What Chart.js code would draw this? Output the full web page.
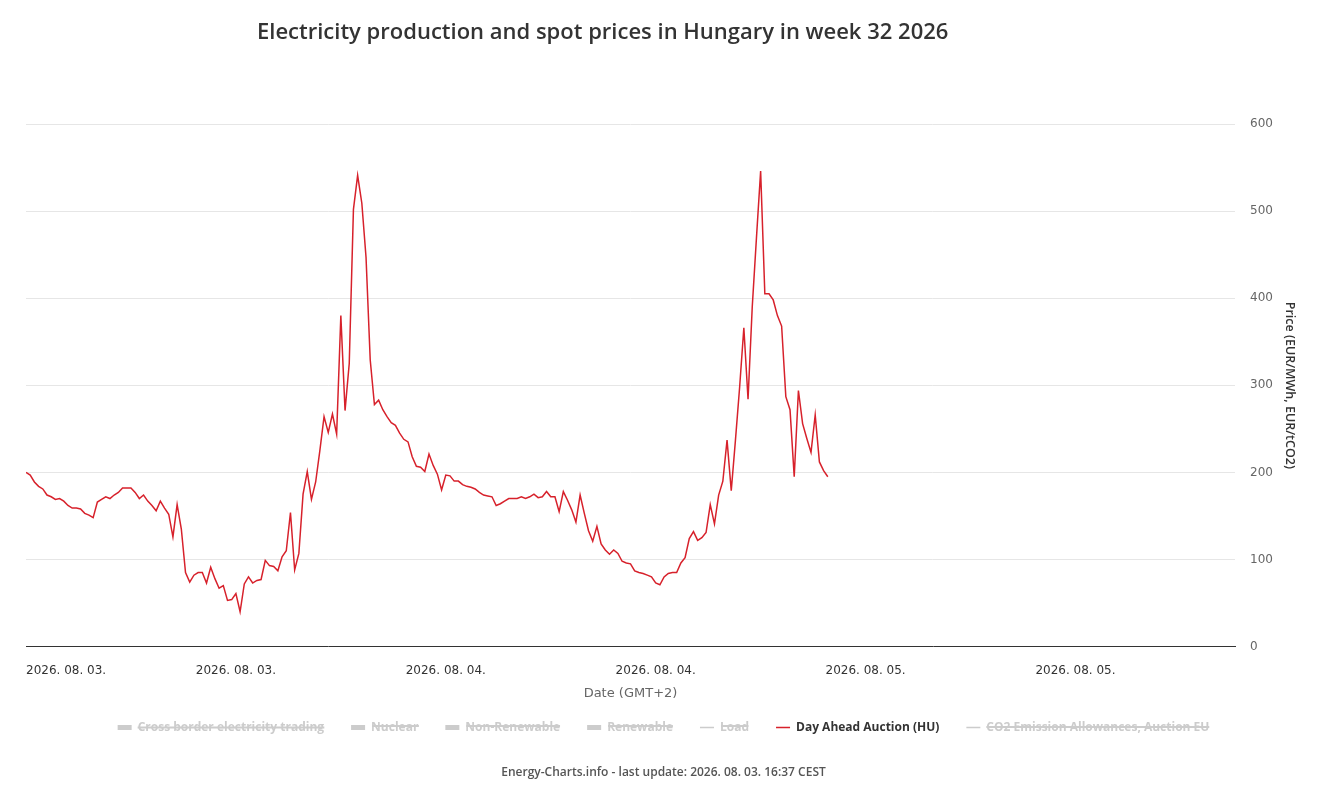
<!DOCTYPE html>
<html>
<head>
<meta charset="utf-8">
<title>Electricity production and spot prices in Hungary</title>
<script src="https://cdn.jsdelivr.net/npm/chart.js@4.4.1/dist/chart.umd.min.js"></script>
<style>
    html, body { margin: 0; padding: 0; background: #fff; }
    #wrap { position: relative; width: 1319px; height: 798px; }
    #chartTitle {
        position: absolute; left: 257px; top: 15px;
        font: 600 22px "Open Sans", sans-serif; color: #333; white-space: nowrap;
    }
</style>
</head>
<body>
<div id="wrap">
    <div id="chartTitle">Electricity production and spot prices in Hungary in week 32 2026</div>
    <canvas id="priceChart"></canvas>
</div>
<script>
// Day ahead price, one value per quarter hour, 2026.08.03 00:00 -> 2026.08.04 23:45
const dayAheadPrices = [
    200, 197, 189, 184, 181, 174, 172, 169, 170, 167, 162, 159, 159, 158, 153, 151,
    148, 166, 169, 172, 170, 174, 177, 182, 182, 182, 177, 170, 174, 167, 162, 156,
    167, 159, 152, 126, 163, 135, 85, 74, 82, 85, 85, 73, 91, 78, 67, 70,
    53, 54, 61, 40, 72, 80, 73, 76, 77, 99, 93, 92, 87, 103, 110, 154,
    88, 107, 175, 201, 169, 189, 225, 264, 246, 267, 244, 380, 271, 325, 502, 541,
    509, 447, 329, 278, 283, 272, 264, 257, 254, 245, 238, 235, 218, 207, 206, 201,
    221, 208, 198, 180, 197, 196, 190, 190, 186, 184, 183, 181, 177, 174, 173, 172,
    162, 164, 167, 170, 170, 170, 172, 170, 172, 175, 171, 172, 178, 172, 172, 155,
    178, 168, 157, 143, 174, 153, 133, 121, 138, 118, 111, 106, 111, 107, 98, 96,
    95, 87, 85, 84, 82, 80, 73, 71, 80, 84, 85, 85, 96, 102, 124, 132,
    122, 125, 131, 163, 141, 174, 190, 237, 179, 237, 298, 366, 284, 390, 469, 546,
    405, 405, 398, 380, 368, 287, 272, 195, 294, 256, 239, 223, 266, 212, 202, 195
];

// x axis: quarter-hour slots over three days
const slotCount = 288;
const xTickSlots = [0, 50, 100, 150, 200, 250, 288];
const xTickLabels = ["2026. 08. 03.", "2026. 08. 03.", "2026. 08. 04.", "2026. 08. 04.",
                     "2026. 08. 05.", "2026. 08. 05.", ""];
const yTicks = [0, 100, 200, 300, 400, 500, 600];

// legend entries (only the price series is switched on)
const seriesNames = ["Cross border electricity trading", "Nuclear", "Non-Renewable", "Renewable",
                     "Load", "Day Ahead Auction (HU)", "CO2 Emission Allowances, Auction EU"];
const seriesKinds = ["area", "area", "area", "area", "line", "line", "line"];
const seriesHidden = [true, true, true, true, true, false, true];
const priceSeriesIndex = 5;

const priceColor = "#d7212b";
const hiddenColor = "#cccccc";
const tickFont = "'DejaVu Sans', Verdana, sans-serif";

Chart.defaults.font.family = "'Open Sans', sans-serif";

document.addEventListener("DOMContentLoaded", function () {
    let ctx = document.getElementById("priceChart").getContext("2d");

    let datasets = seriesNames.map(function (name, i) {
        let points = [];
        if (i === priceSeriesIndex) {
            points = dayAheadPrices.map((v, slot) => ({ x: slot, y: v }));
        }
        return {
            label: name,
            data: points,
            hidden: seriesHidden[i],
            borderColor: i === priceSeriesIndex ? priceColor : hiddenColor,
            backgroundColor: i === priceSeriesIndex ? priceColor : hiddenColor,
            borderWidth: 1.5,
            pointRadius: 0,
            tension: 0,
            fill: false
        };
    });

    window.priceChart = new Chart(ctx, {
        type: "line",
        data: { datasets: datasets },
        options: {
            responsive: true,
            maintainAspectRatio: false,
            animation: false,
            layout: { padding: { top: 124, left: 8, right: 0, bottom: 18 } },
            scales: {
                x: {
                    type: "linear",
                    min: 0,
                    max: slotCount,
                    grid: { display: false, drawTicks: false },
                    border: { display: true, color: "#333333", width: 1 },
                    afterBuildTicks: function (axis) {
                        axis.ticks = xTickSlots.map(v => ({ value: v }));
                    },
                    ticks: {
                        autoSkip: false,
                        maxRotation: 0,
                        align: "inner",
                        padding: 17,
                        color: "#333333",
                        font: { family: tickFont, size: 12 },
                        callback: function (value, index) { return xTickLabels[index]; }
                    },
                    title: {
                        display: true,
                        text: "Date (GMT+2)",
                        color: "#666666",
                        font: { family: tickFont, size: 13 },
                        padding: { top: 0, bottom: -7 }
                    },
                    afterFit: function (scale) { scale.height = 48; }
                },
                // empty spacer on the left so the legend sits where the original has it
                spacer: {
                    type: "linear",
                    position: "left",
                    display: true,
                    grid: { display: false, drawTicks: false },
                    border: { display: false },
                    ticks: { display: false },
                    afterFit: function (scale) { scale.width = 18; }
                },
                y: {
                    position: "right",
                    min: 0,
                    max: 600,
                    afterBuildTicks: function (axis) {
                        axis.ticks = yTicks.map(v => ({ value: v }));
                    },
                    grid: { color: "#e6e6e6", drawTicks: false },
                    border: { display: false },
                    ticks: { padding: 15, color: "#666666", font: { family: tickFont, size: 12 } },
                    title: {
                        display: true,
                        text: "Price (EUR/MWh, EUR/tCO2)",
                        color: "#333333",
                        font: { size: 12.5, weight: "600" },
                        padding: { top: 22, bottom: 0 }
                    },
                    afterFit: function (scale) { scale.width = 84; }
                }
            },
            plugins: {
                legend: {
                    position: "bottom",
                    onClick: null,
                    labels: {
                        usePointStyle: true,
                        pointStyleWidth: 14,
                        boxHeight: 5,
                        padding: 27,
                        color: "#333333",
                        font: { size: 12, weight: "bold" },
                        generateLabels: function (chart) {
                            return chart.data.datasets.map(function (ds, i) {
                                let col = ds.hidden ? hiddenColor : ds.borderColor;
                                return {
                                    text: ds.label,
                                    datasetIndex: i,
                                    hidden: ds.hidden,
                                    fillStyle: col,
                                    strokeStyle: col,
                                    fontColor: ds.hidden ? hiddenColor : "#333333",
                                    lineWidth: seriesKinds[i] === "line" ? 1.5 : 0,
                                    pointStyle: seriesKinds[i] === "line" ? "line" : "rect"
                                };
                            });
                        }
                    }
                },
                subtitle: {
                    display: true,
                    position: "bottom",
                    text: "Energy-Charts.info - last update: 2026. 08. 03. 16:37 CEST",
                    color: "#555555",
                    font: { size: 12, weight: "600" },
                    padding: { top: 22, bottom: 0 }
                },
                tooltip: { enabled: false }
            }
        }
    });
});
</script>
</body>
</html>
